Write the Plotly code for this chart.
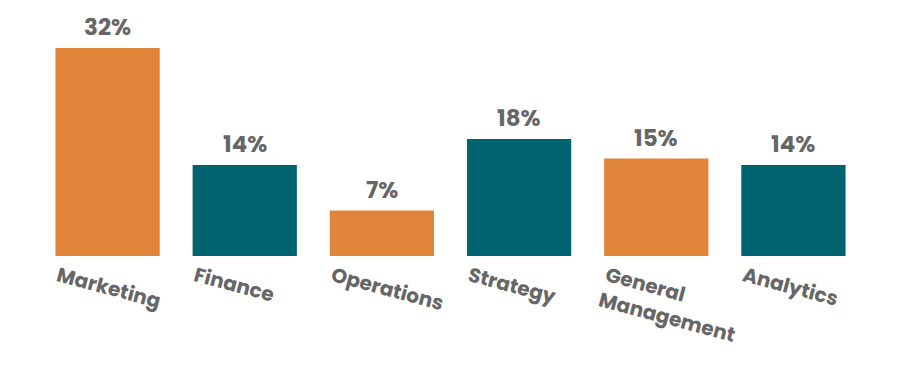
import plotly.graph_objects as go

categories = ["Marketing", "Finance", "Operations", "Strategy", "General<br>Management", "Analytics"]
values = [32, 14, 7, 18, 15, 14]
colors = ["#E0843A", "#006470", "#E0843A", "#006470", "#E0843A", "#006470"]
labels = [f"{v}%" for v in values]

xs = list(range(len(categories)))
fnt = "Poppins, Inter, sans-serif"

fig = go.Figure()
fig.add_trace(go.Bar(
    x=xs, y=values, marker=dict(color=colors, line=dict(width=0)),
    width=0.76, hoverinfo="skip",
))
for x, v, t in zip(xs, values, labels):
    fig.add_annotation(x=x, y=v, text=t, showarrow=False, yanchor="bottom",
                       yshift=3, font=dict(family=fnt, size=23, color="#666666", weight="bold"))

fig.update_layout(
    width=900, height=370,
    margin=dict(l=31, r=46, t=40, b=122),
    plot_bgcolor="white", paper_bgcolor="white",
    showlegend=False,
    xaxis=dict(range=[-0.5, 5.5], tickvals=[x - 0.36 for x in xs], ticktext=categories,
               tickangle=15, showgrid=False, zeroline=False, showline=False, ticks="",
               ticklabelstandoff=4,
               tickfont=dict(family=fnt, size=20, color="#666666", weight="bold")),
    yaxis=dict(range=[0, 32], visible=False, showgrid=False),
)
fig.write_html("out.html")
